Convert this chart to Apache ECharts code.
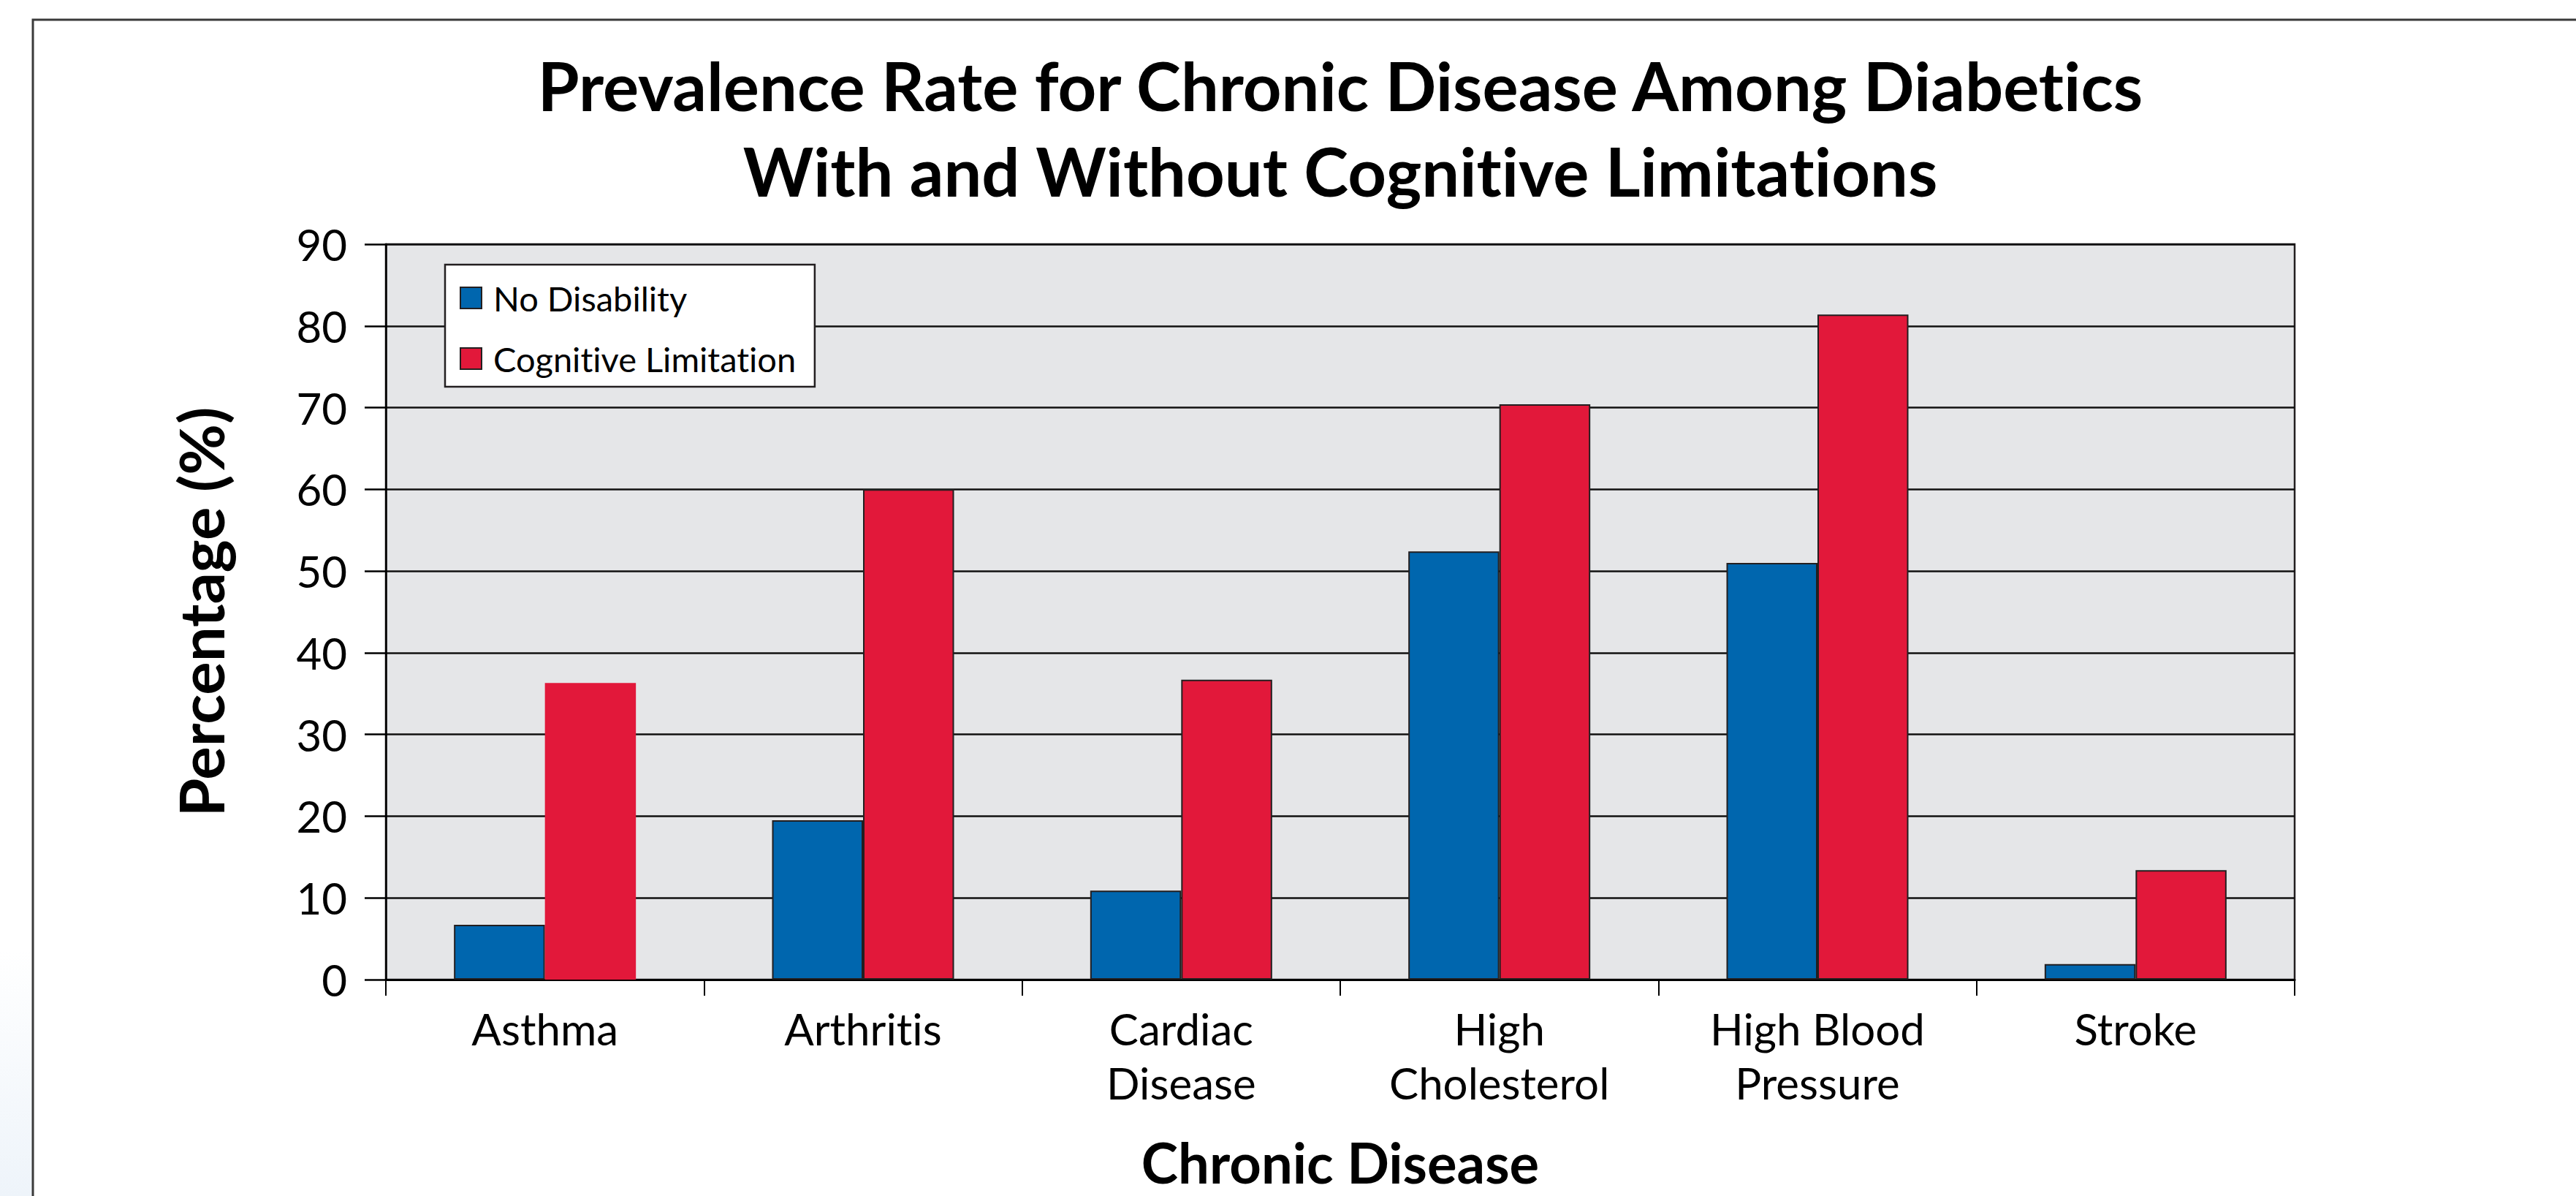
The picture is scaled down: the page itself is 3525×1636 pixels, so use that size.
<!DOCTYPE html>
<html>
<head>
<meta charset="utf-8">
<title>Prevalence Rate for Chronic Disease Among Diabetics</title>
<script src="https://cdn.jsdelivr.net/npm/echarts@6/dist/echarts.min.js"></script>
<style>
  html, body { margin: 0; padding: 0; background: #ffffff; }
  #chart { width: 3525px; height: 1636px; }
  /* keep "ti" / "fi" as separate letters */
  #chart text { font-variant-ligatures: none; font-feature-settings: "liga" 0, "clig" 0; }
</style>
</head>
<body>
<div id="chart"></div>
<script>
// Chronic disease categories (x axis)
const categories = ['Asthma', 'Arthritis', 'Cardiac\nDisease', 'High\nCholesterol', 'High Blood\nPressure', 'Stroke'];

// Prevalence (%) among diabetics
const noDisability = [6.7, 19.5, 10.9, 52.4, 51.0, 1.9];
const cognitiveLimitation = [36.3, 60.0, 36.7, 70.4, 81.4, 13.4];

// Series names shown in the legend
const seriesNames = ['No Disability', 'Cognitive Limitation'];

// Y axis scale
const yMin = 0;
const yMax = 90;
const yStep = 10;

const FONT = 'Lato, "Open Sans", sans-serif';
const INK = '#231f20';

const chart = echarts.init(document.getElementById('chart'), null, { renderer: 'svg' });

const option = {
  backgroundColor: '#ffffff',
  animation: false,
  title: {
    text: 'Prevalence Rate for Chronic Disease Among Diabetics\nWith and Without Cognitive Limitations',
    left: 1834,
    top: 58,
    padding: 0,
    textAlign: 'center',
    textStyle: {
      fontFamily: FONT,
      fontWeight: 'bold',
      fontSize: 92,
      lineHeight: 117,
      color: '#000000'
    }
  },
  legend: {
    orient: 'vertical',
    left: 609,
    top: 362,
    padding: [22, 24, 15, 20],
    itemWidth: 29,
    itemHeight: 29,
    itemGap: 36,
    backgroundColor: '#ffffff',
    borderColor: INK,
    borderWidth: 2.5,
    icon: 'rect',
    selectedMode: false,
    textStyle: {
      fontFamily: FONT,
      fontSize: 47,
      color: '#000000',
      padding: [0, 0, 0, 11]
    },
    data: seriesNames
  },
  grid: {
    left: 528,
    right: 385,
    top: 334,
    bottom: 296,
    show: true,
    backgroundColor: '#e5e6e8',
    borderColor: INK,
    borderWidth: 2.5
  },
  xAxis: {
    type: 'category',
    data: categories,
    name: 'Chronic Disease',
    nameLocation: 'middle',
    nameGap: 211,
    nameTextStyle: {
      fontFamily: FONT,
      fontWeight: 'bold',
      fontSize: 76,
      color: '#000000'
    },
    axisLine: { show: true, lineStyle: { color: '#000000', width: 3 } },
    axisTick: { show: true, length: 22, lineStyle: { color: '#000000', width: 2 } },
    axisLabel: {
      interval: 0,
      margin: 30,
      fontFamily: FONT,
      fontSize: 60,
      lineHeight: 74,
      color: '#000000'
    },
    splitLine: { show: false }
  },
  yAxis: {
    type: 'value',
    min: yMin,
    max: yMax,
    interval: yStep,
    name: 'Percentage (%)',
    nameLocation: 'middle',
    nameRotate: 90,
    nameGap: 212,
    nameTextStyle: {
      fontFamily: FONT,
      fontWeight: 'bold',
      fontSize: 85,
      color: '#000000'
    },
    axisLine: { show: true, lineStyle: { color: '#000000', width: 2.5 } },
    axisTick: { show: true, inside: false, length: 29, lineStyle: { color: '#000000', width: 2.5 } },
    axisLabel: {
      margin: 53,
      fontFamily: FONT,
      fontSize: 60,
      color: '#000000'
    },
    splitLine: { show: true, lineStyle: { color: '#111111', width: 2.5 } }
  },
  series: [
    {
      name: seriesNames[0],
      type: 'bar',
      data: noDisability,
      barWidth: '28.6%',
      barGap: '0%',
      itemStyle: { color: '#0066ae', borderColor: INK, borderWidth: 2 }
    },
    {
      name: seriesNames[1],
      type: 'bar',
      // the Asthma bar is drawn without an outline
      data: cognitiveLimitation.map((v, i) => i === 0 ? { value: v, itemStyle: { borderWidth: 0 } } : v),
      barWidth: '28.6%',
      barGap: '0%',
      itemStyle: { color: '#e2183a', borderColor: INK, borderWidth: 2 }
    }
  ],
  graphic: [
    {
      // faint blue wash outside the frame, lower left
      type: 'rect',
      silent: true,
      shape: { x: 0, y: 1300, width: 44, height: 336 },
      style: {
        fill: new echarts.graphic.LinearGradient(0, 0, 0, 1, [
          { offset: 0, color: '#ffffff' },
          { offset: 1, color: '#eef4fa' }
        ])
      }
    },
    {
      // outer frame around the figure
      type: 'rect',
      silent: true,
      shape: { x: 45, y: 27, width: 4000, height: 4000 },
      style: { fill: 'none', stroke: '#3a3a3a', lineWidth: 3 }
    }
  ]
};

chart.setOption(option);
</script>
</body>
</html>
